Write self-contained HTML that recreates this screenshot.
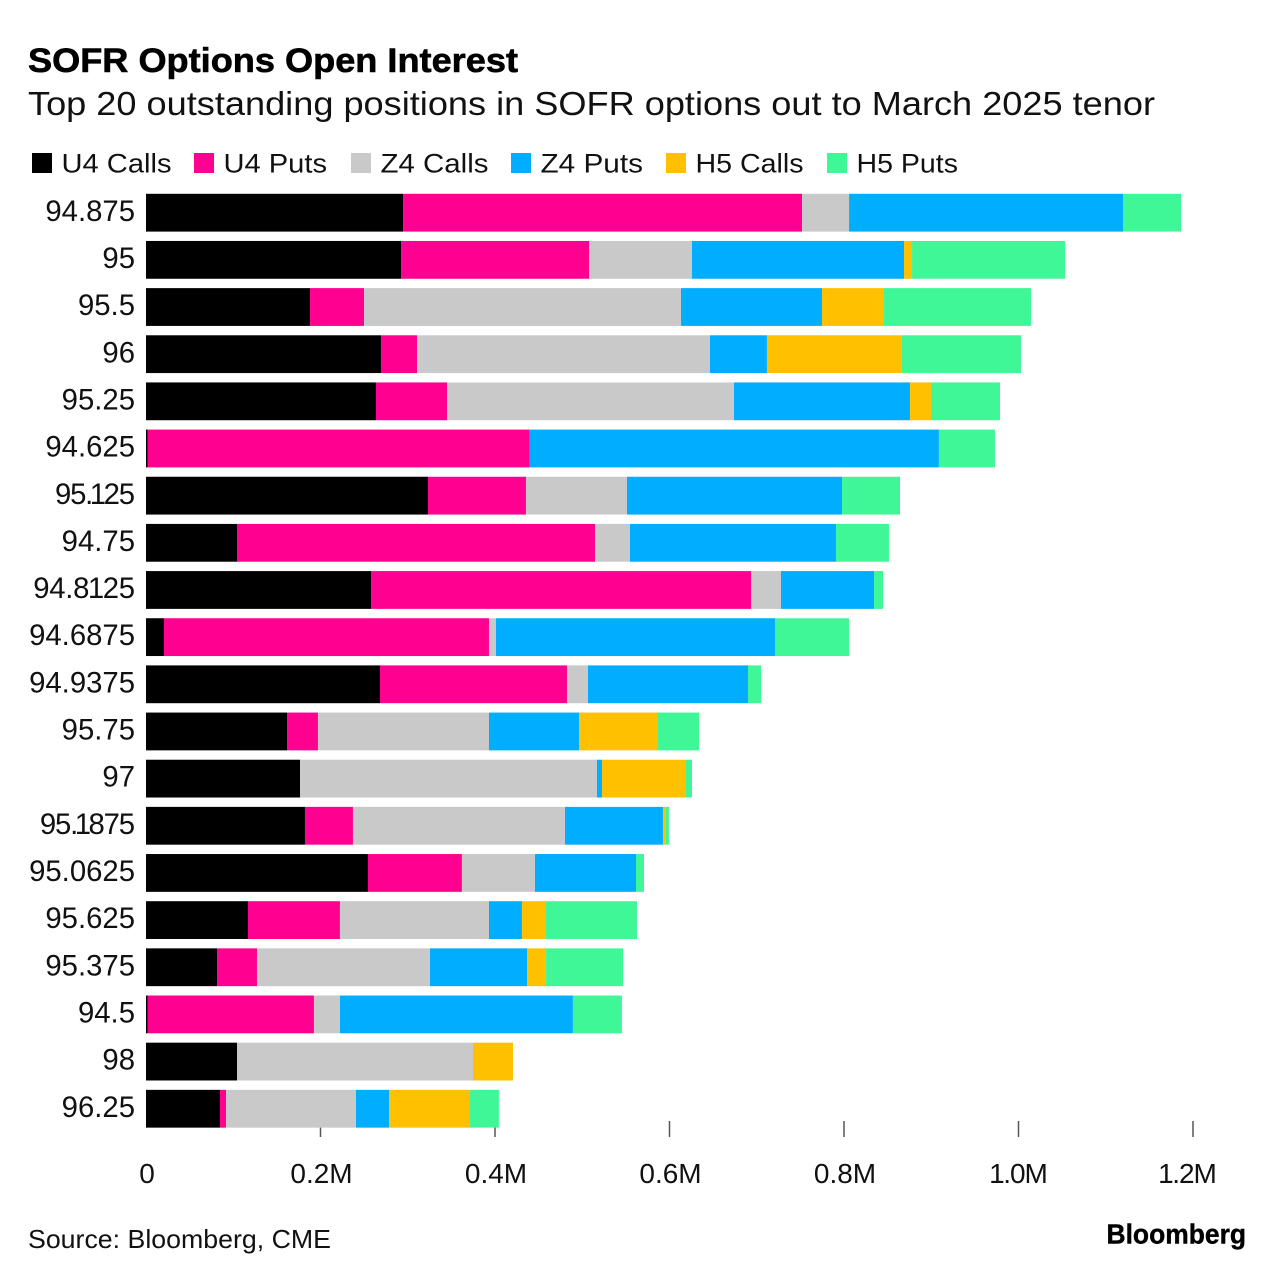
<!DOCTYPE html>
<html lang="en">
<head>
<meta charset="utf-8">
<title>SOFR Options Open Interest</title>
<style>
html,body{margin:0;padding:0;background:#fff;}
svg{display:block;font-family:"Liberation Sans",Arial,sans-serif;fill:#000;}
</style>
</head>
<body>
<svg id="chart" xmlns="http://www.w3.org/2000/svg" width="1285" height="1280" viewBox="0 0 1285 1280">
  <rect x="0" y="0" width="1285" height="1280" fill="#ffffff"/>
  <text x="28" y="72" font-size="34.5" font-weight="700" stroke="#000" stroke-width="0.6" textLength="490" lengthAdjust="spacingAndGlyphs">SOFR Options Open Interest</text>
  <text x="28" y="115" font-size="33" fill="#111" textLength="1127" lengthAdjust="spacingAndGlyphs">Top 20 outstanding positions in SOFR options out to March 2025 tenor</text>
  <g id="legend"></g>
  <g id="x-ticks"></g>
  <g id="bars"></g>
  <g id="y-labels"></g>
  <text x="28" y="1248" font-size="26" fill="#111" textLength="303" lengthAdjust="spacingAndGlyphs">Source: Bloomberg, CME</text>
  <text x="1106.5" y="1243.5" font-size="28" font-weight="700" stroke="#000" stroke-width="0.4" textLength="139.5" lengthAdjust="spacingAndGlyphs">Bloomberg</text>
</svg>
<script>
const strikes = ["94.875","95","95.5","96","95.25","94.625","95.125","94.75","94.8125","94.6875","94.9375","95.75","97","95.1875","95.0625","95.625","95.375","94.5","98","96.25"];
const seriesNames = ["U4 Calls","U4 Puts","Z4 Calls","Z4 Puts","H5 Calls","H5 Puts"];
const seriesColors = ["#000000","#ff0090","#c9c9c9","#00adff","#ffc000","#40f797"];
// Values in thousands of contracts
const u4Calls = [294.6,292.3,188,269.3,263.6,1.7,323.2,104.3,257.9,20.6,268.2,161.6,176.5,182.2,254.4,116.9,81.4,1.7,104.3,84.8];
const u4Puts  = [457.3,215.5,61.9,41.3,81.4,437.8,112.3,410.3,435.5,372.5,214.3,35.5,0,55,107.7,105.4,45.8,190.8,0,6.9];
const z4Calls = [53.9,118,363.3,335.8,328.9,0,115.8,40.1,34.4,8,24.1,196,340.4,243,83.7,170.8,198.3,29.8,270.5,149];
const z4Puts  = [314,243,161.6,65.3,201.7,469.3,246.4,236.1,106.6,319.8,183.4,103.2,5.7,112.3,115.8,37.8,111.2,267,0,37.8];
const h5Calls = [0,9.2,71,154.7,24.1,0,0,0,0,0,0,90.5,96.3,3.4,0,27.5,21.8,0,45.8,92.8];
const h5Puts  = [66.5,175.4,168.5,136.4,79.1,64.2,66.5,60.7,10.3,84.8,14.9,47,6.9,3.4,9.2,104.3,88.3,56.2,0,33.2];
const allSeries = [u4Calls,u4Puts,z4Calls,z4Puts,h5Calls,h5Puts];
const tickValues = [0,200,400,600,800,1000,1200];
const tickLabels = ["0","0.2M","0.4M","0.6M","0.8M","1.0M","1.2M"];

const NS = "http://www.w3.org/2000/svg";
const xZero = 146, xPerUnit = 1047 / 1200;
const xScale = v => xZero + v * xPerUnit;
const firstBarTop = 193.8, barStep = 47.16, barHeight = 37.8;
const yScale = i => firstBarTop + i * barStep;

function make(tag, attrs, parent, text) {
  const el = document.createElementNS(NS, tag);
  for (const k in attrs) el.setAttribute(k, attrs[k]);
  if (text !== undefined) el.textContent = text;
  parent.appendChild(el);
  return el;
}
const slug = s => s.toLowerCase().replace(/[^a-z0-9]+/g, "-");

// The reference typeface has a narrow "1"; spread the tightening across the label so glyphs do not collide.
function kernOnes(label) {
  const chars = Array.from(label);
  const i = chars.indexOf("1");
  if (i < 0) return "0";
  const afterDot = chars[i - 1] === ".";
  const dx = chars.map((c, k) => (k === 0 ? 0 : (afterDot ? -1.2 : -0.3)));
  dx[i] = afterDot ? -3.5 : -1.5;
  dx[i + 1] = afterDot ? -2.5 : -1.5;
  return dx.join(" ");
}

// legend
const legendG = document.getElementById("legend");
const legendSwatchX = [32,194,351,511,666,827];
const legendTextLen = [110,103.5,108,102.5,108,101.5];
seriesNames.forEach((name, i) => {
  const sw = make("rect", {x: legendSwatchX[i], y: 153, width: 20, height: 20, fill: seriesColors[i]}, legendG);
  
  
  const t = make("text", {x: legendSwatchX[i] + 29.5, y: 172.5, "font-size": 27, fill: "#111", textLength: legendTextLen[i], lengthAdjust: "spacingAndGlyphs"}, legendG, name);
  
  
});

// x axis
const tickG = document.getElementById("x-ticks");
tickValues.forEach((v, i) => {
  if (v !== 0) {
    const l = make("line", {x1: xScale(v), x2: xScale(v), y1: 1121, y2: 1137, stroke: "#555555", "stroke-width": 1.5}, tickG);
    
    
  }
  const label = tickLabels[i];
  const leadingOne = label[0] === "1";
  const nudge = label === "1.2M" ? -5.5 : (leadingOne ? 0 : 1);
  const t = make("text", {x: xScale(v) + nudge, y: 1183, "font-size": 28, fill: "#111", "text-anchor": "middle", dx: leadingOne ? "0 -1.5 -1 -1" : "0"}, tickG, label);
  
  
});

// bars
const barsG = document.getElementById("bars");
const labelsG = document.getElementById("y-labels");
strikes.forEach((strike, r) => {
  const row = make("g", {}, barsG);
  
  
  let cum = 0;
  allSeries.forEach((values, s) => {
    const v = values[r];
    if (v > 0) {
      const seg = make("rect", {x: xScale(cum), y: yScale(r), width: v * xPerUnit, height: barHeight, fill: seriesColors[s]}, row);
      
      
    }
    cum += v;
  });
  const t = make("text", {x: 135, y: yScale(r) + 27, "font-size": 29.3, fill: "#111", "text-anchor": "end", dx: kernOnes(strike)}, labelsG, strike);
  
  
});
</script>
</body>
</html>
